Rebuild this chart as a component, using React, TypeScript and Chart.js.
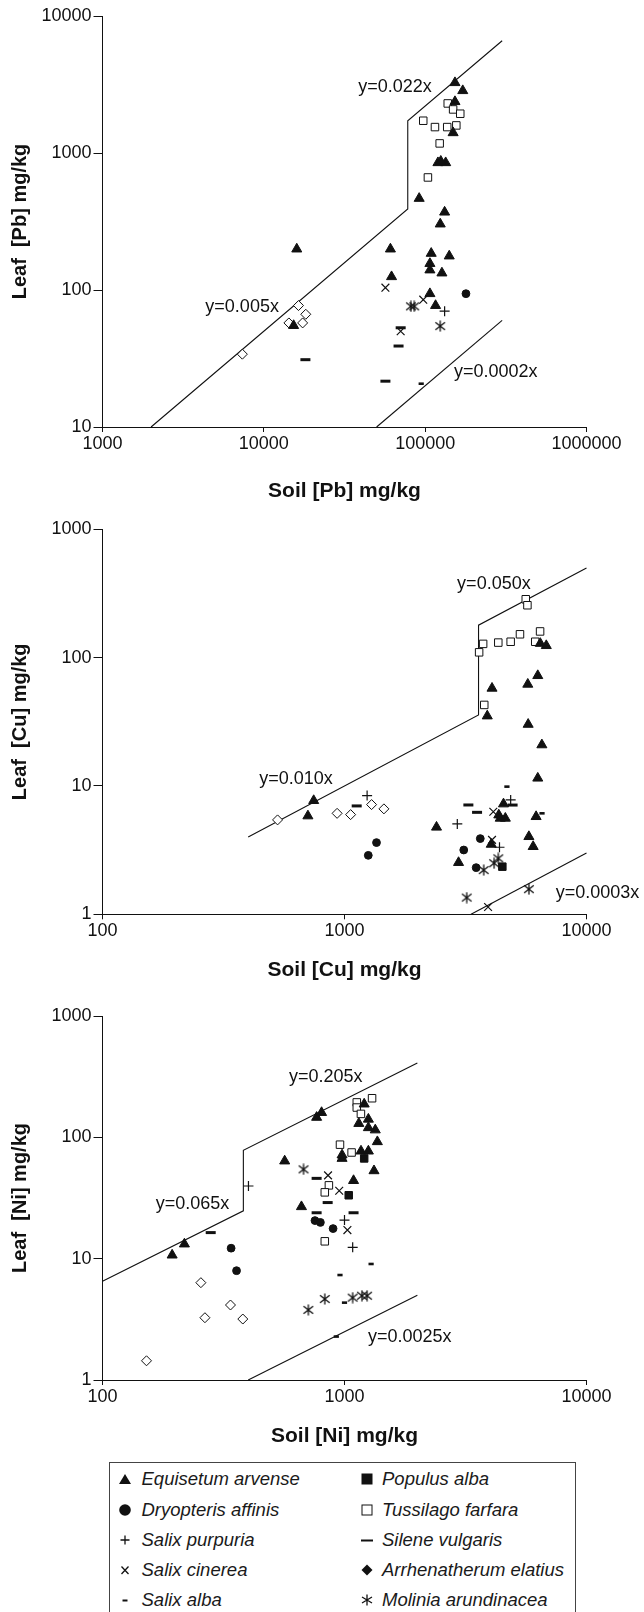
import React, { useEffect, useRef } from "react";
import { Chart, registerables } from "chart.js";

Chart.register(...registerables);

type Pt = [number, number];

// ================= Pb panel =================
const pbXTicks = [1000, 10000, 100000, 1000000];
const pbXTickLabels = ["1000", "10000", "100000", "1000000"];
const pbYTicks = [10, 100, 1000, 10000];
const pbYTickLabels = ["10", "100", "1000", "10000"];
const pbUpperLine: Pt[] = [[2000, 10], [78000, 390], [78000, 1716], [300000, 6600]];
const pbLowerLine: Pt[] = [[50000, 10], [300000, 60]];
const pbLineLabels = [
  { text: "y=0.022x", x: 38500, y: 3010 },
  { text: "y=0.005x", x: 4340, y: 75.3 },
  { text: "y=0.0002x", x: 151000, y: 25.2 },
];
const pbEquisetum: Pt[] = [
  [153000, 3260], [171000, 2850], [153000, 2370], [149000, 1405], [120000, 849], [134000, 849],
  [125000, 870], [91800, 466], [132000, 370], [124000, 303], [16000, 199], [60900, 199],
  [109000, 185], [141000, 177], [107000, 156], [107000, 140], [127000, 133], [61900, 125],
  [107000, 94], [116000, 77], [15300, 55],
];
const pbTussilago: Pt[] = [
  [138000, 2300], [149000, 2080], [165000, 1935], [97300, 1720], [115000, 1546], [137000, 1546],
  [156000, 1590], [123000, 1175], [104000, 663],
];
const pbArrhenatherum: Pt[] = [[7360, 34], [16400, 77], [18200, 66.5], [17400, 57.5], [14300, 57.5]];
const pbSalixCinerea: Pt[] = [[56700, 104], [97300, 85], [70500, 50]];
const pbMolinia: Pt[] = [[81600, 76], [85500, 76], [124000, 54.5]];
const pbSalixPurpuria: Pt[] = [[132000, 70]];
const pbDryopteris: Pt[] = [[179000, 94]];
const pbSilene: Pt[] = [[68400, 39], [18100, 31], [56700, 21.6], [70500, 53]];
const pbSalixAlba: Pt[] = [[94500, 20.7]];
const pbPopulus: Pt[] = [];

// ================= Cu panel =================
const cuXTicks = [100, 1000, 10000];
const cuXTickLabels = ["100", "1000", "10000"];
const cuYTicks = [1, 10, 100, 1000];
const cuYTickLabels = ["1", "10", "100", "1000"];
const cuUpperLine: Pt[] = [[400, 4], [3580, 35.8], [3580, 179], [10000, 500]];
const cuLowerLine: Pt[] = [[3333, 1], [10000, 3]];
const cuLineLabels = [
  { text: "y=0.050x", x: 2920, y: 375 },
  { text: "y=0.010x", x: 444, y: 11.3 },
  { text: "y=0.0003x", x: 7460, y: 1.46 },
];
const cuTussilago: Pt[] = [
  [5610, 285], [5700, 256], [6430, 160], [5310, 152], [4860, 133], [4320, 131], [3740, 128],
  [3600, 110], [6140, 133], [3780, 42.8],
];
const cuEquisetum: Pt[] = [
  [6440, 129], [6820, 124], [6290, 72.4], [5720, 62], [4070, 57.7], [3890, 35.1], [5740, 30.2],
  [6540, 20.9], [6290, 11.5], [746, 7.69], [706, 5.84], [4540, 7.24], [4340, 5.94], [4400, 5.6],
  [4620, 5.6], [6190, 5.77], [2400, 4.77], [5780, 4.03], [4040, 3.51], [6020, 3.37], [2960, 2.53],
];
const cuDryopteris: Pt[] = [[1356, 3.62], [1254, 2.88], [3110, 3.17], [3640, 3.89], [3500, 2.31]];
const cuPopulus: Pt[] = [[4490, 2.35]];
const cuArrhenatherum: Pt[] = [[529, 5.44], [932, 6.12], [1060, 5.98], [1294, 7.16], [1455, 6.63]];
const cuSalixPurpuria: Pt[] = [[1240, 8.41], [2925, 5.06], [4860, 7.78], [4370, 3.33]];
const cuSilene: Pt[] = [[1123, 6.99], [3250, 7.11], [3530, 6.23], [4950, 7.1]];
const cuSalixAlba: Pt[] = [[4690, 9.88], [6550, 6.12]];
const cuSalixCinerea: Pt[] = [[4120, 6.3], [4070, 3.8], [3920, 1.14]];
const cuMolinia: Pt[] = [[4320, 2.73], [4150, 2.5], [3760, 2.21], [3200, 1.35], [5780, 1.57]];

// ================= Ni panel =================
const niXTicks = [100, 1000, 10000];
const niXTickLabels = ["100", "1000", "10000"];
const niYTicks = [1, 10, 100, 1000];
const niYTickLabels = ["1", "10", "100", "1000"];
const niUpperLine: Pt[] = [[100, 6.5], [382, 24.8], [382, 78.3], [2000, 410]];
const niLowerLine: Pt[] = [[400, 1], [2000, 5]];
const niLineLabels = [
  { text: "y=0.205x", x: 590, y: 312 },
  { text: "y=0.065x", x: 166, y: 28.2 },
  { text: "y=0.0025x", x: 1250, y: 2.25 },
];
const niEquisetum: Pt[] = [
  [194, 10.7], [218, 13.2], [566, 63.8], [664, 26.8], [767, 146], [804, 160], [977, 67], [977, 71.5],
  [1090, 44], [1206, 188], [1146, 130], [1255, 141], [1255, 120], [1340, 115], [1367, 92],
  [1170, 77], [1255, 77], [1324, 53],
];
const niTussilago: Pt[] = [
  [1124, 194], [1124, 176], [1300, 210], [1169, 156], [958, 87], [1070, 75], [862, 40.2],
  [829, 35.2], [829, 13.9],
];
const niPopulus: Pt[] = [[1041, 33.3], [1206, 67]];
const niDryopteris: Pt[] = [[340, 12.2], [358, 7.96], [755, 20.6], [795, 19.9], [897, 17.7]];
const niArrhenatherum: Pt[] = [[152, 1.44], [255, 6.34], [265, 3.26], [338, 4.15], [380, 3.18]];
const niSalixPurpuria: Pt[] = [[401, 39.7], [1000, 20.8], [1081, 12.4]];
const niSilene: Pt[] = [[280, 16.4], [767, 45.9], [852, 29], [767, 23.9], [1090, 23.9]];
const niSalixAlba: Pt[] = [[1288, 9.04], [958, 7.33], [1000, 4.34], [925, 2.28]];
const niSalixCinerea: Pt[] = [[855, 48.6], [951, 36.3], [1028, 17.2]];
const niMolinia: Pt[] = [[677, 54.5], [709, 3.78], [829, 4.65], [1081, 4.77], [1180, 4.95], [1240, 4.95]];

// ================= legend =================
const legendCol1 = ["Equisetum arvense", "Dryopteris affinis", "Salix purpuria", "Salix cinerea", "Salix alba"];
const legendCol2 = ["Populus alba", "Tussilago farfara", "Silene vulgaris", "Arrhenatherum elatius", "Molinia arundinacea"];

const INK = "#111";
const FONT = '"Liberation Sans", Arial, Helvetica, sans-serif';

let asteriskImg: HTMLCanvasElement | null = null;
function getAsterisk(): HTMLCanvasElement {
  if (asteriskImg) return asteriskImg;
  const c = document.createElement("canvas");
  c.width = 12;
  c.height = 12;
  const g = c.getContext("2d")!;
  g.strokeStyle = INK;
  g.lineWidth = 1.3;
  g.beginPath();
  g.moveTo(6, 0.5);
  g.lineTo(6, 11.5);
  g.moveTo(1.2, 2.2);
  g.lineTo(10.8, 9.8);
  g.moveTo(10.8, 2.2);
  g.lineTo(1.2, 9.8);
  g.stroke();
  asteriskImg = c;
  return c;
}

function styleFor(species: string): any {
  switch (species) {
    case "Equisetum arvense":
      return { pointStyle: "triangle", pointRadius: 5.8, backgroundColor: INK, borderColor: INK, borderWidth: 1 };
    case "Dryopteris affinis":
      return { pointStyle: "circle", pointRadius: 3.9, backgroundColor: INK, borderColor: INK, borderWidth: 1 };
    case "Salix purpuria":
      return { pointStyle: "cross", pointRadius: 5, backgroundColor: INK, borderColor: INK, borderWidth: 1.2 };
    case "Salix cinerea":
      return { pointStyle: "crossRot", pointRadius: 5.5, backgroundColor: INK, borderColor: INK, borderWidth: 1.2 };
    case "Salix alba":
      return { pointStyle: "line", pointRadius: 2.6, backgroundColor: INK, borderColor: INK, borderWidth: 2.6 };
    case "Populus alba":
      return { pointStyle: "rect", pointRadius: 5.3, backgroundColor: INK, borderColor: INK, borderWidth: 1 };
    case "Tussilago farfara":
      return { pointStyle: "rect", pointRadius: 5.3, backgroundColor: "#fff", borderColor: INK, borderWidth: 1 };
    case "Silene vulgaris":
      return { pointStyle: "line", pointRadius: 5, backgroundColor: INK, borderColor: INK, borderWidth: 3 };
    case "Arrhenatherum elatius":
      return { pointStyle: "rectRot", pointRadius: 5, backgroundColor: "#fff", borderColor: INK, borderWidth: 1 };
    case "Molinia arundinacea":
      return { pointStyle: getAsterisk(), pointRadius: 6, backgroundColor: INK, borderColor: INK, borderWidth: 1 };
  }
  return {};
}

const lineLabelsPlugin = {
  id: "lineLabels",
  afterDatasetsDraw(chart: any, _args: any, opts: any) {
    const { ctx } = chart;
    const xs = chart.scales.x;
    const ys = chart.scales.y;
    ctx.save();
    ctx.font = `18px ${FONT}`;
    ctx.fillStyle = INK;
    ctx.textAlign = "left";
    ctx.textBaseline = "middle";
    for (const l of opts.labels || []) {
      ctx.fillText(l.text, xs.getPixelForValue(l.x), ys.getPixelForValue(l.y));
    }
    ctx.restore();
  },
};

type Panel = {
  top: number;
  height: number;
  areaTop: number;
  areaBottom: number;
  xTitlePad: number;
  xTitle: string;
  yTitle: string;
  xTicks: number[];
  xTickLabels: string[];
  yTicks: number[];
  yTickLabels: string[];
  upper: Pt[];
  lower: Pt[];
  labels: { text: string; x: number; y: number }[];
  series: [string, Pt[]][];
};

const AREA_LEFT = 102.5;
const AREA_RIGHT = 586.5;
const WIDTH = 644;

const panels: Panel[] = [
  {
    top: 0, height: 510, areaTop: 16, areaBottom: 427, xTitlePad: 6.4,
    xTitle: "Soil [Pb] mg/kg", yTitle: "Leaf  [Pb] mg/kg",
    xTicks: pbXTicks, xTickLabels: pbXTickLabels, yTicks: pbYTicks, yTickLabels: pbYTickLabels,
    upper: pbUpperLine, lower: pbLowerLine, labels: pbLineLabels,
    series: [
      ["Equisetum arvense", pbEquisetum], ["Dryopteris affinis", pbDryopteris], ["Salix purpuria", pbSalixPurpuria],
      ["Salix cinerea", pbSalixCinerea], ["Salix alba", pbSalixAlba], ["Populus alba", pbPopulus],
      ["Tussilago farfara", pbTussilago], ["Silene vulgaris", pbSilene], ["Arrhenatherum elatius", pbArrhenatherum],
      ["Molinia arundinacea", pbMolinia],
    ],
  },
  {
    top: 500, height: 490, areaTop: 29.3, areaBottom: 414.3, xTitlePad: 7.4,
    xTitle: "Soil [Cu] mg/kg", yTitle: "Leaf  [Cu] mg/kg",
    xTicks: cuXTicks, xTickLabels: cuXTickLabels, yTicks: cuYTicks, yTickLabels: cuYTickLabels,
    upper: cuUpperLine, lower: cuLowerLine, labels: cuLineLabels,
    series: [
      ["Equisetum arvense", cuEquisetum], ["Dryopteris affinis", cuDryopteris], ["Salix purpuria", cuSalixPurpuria],
      ["Salix cinerea", cuSalixCinerea], ["Salix alba", cuSalixAlba], ["Populus alba", cuPopulus],
      ["Tussilago farfara", cuTussilago], ["Silene vulgaris", cuSilene], ["Arrhenatherum elatius", cuArrhenatherum],
      ["Molinia arundinacea", cuMolinia],
    ],
  },
  {
    top: 1000, height: 460, areaTop: 16, areaBottom: 380, xTitlePad: 11.4,
    xTitle: "Soil [Ni] mg/kg", yTitle: "Leaf  [Ni] mg/kg",
    xTicks: niXTicks, xTickLabels: niXTickLabels, yTicks: niYTicks, yTickLabels: niYTickLabels,
    upper: niUpperLine, lower: niLowerLine, labels: niLineLabels,
    series: [
      ["Equisetum arvense", niEquisetum], ["Dryopteris affinis", niDryopteris], ["Salix purpuria", niSalixPurpuria],
      ["Salix cinerea", niSalixCinerea], ["Salix alba", niSalixAlba], ["Populus alba", niPopulus],
      ["Tussilago farfara", niTussilago], ["Silene vulgaris", niSilene], ["Arrhenatherum elatius", niArrhenatherum],
      ["Molinia arundinacea", niMolinia],
    ],
  },
];

function buildConfig(p: Panel): any {
  const toXY = (pts: Pt[]) => pts.map(([x, y]) => ({ x, y }));
  const lineDs = (pts: Pt[]) => ({
    type: "line",
    data: toXY(pts),
    showLine: true,
    borderColor: INK,
    borderWidth: 1.1,
    pointRadius: 0,
    fill: false,
    tension: 0,
    clip: false,
  });
  const datasets: any[] = [
    ...p.series.map(([name, pts]) => ({
      label: name,
      data: toXY(pts),
      showLine: false,
      clip: false,
      ...styleFor(name),
    })),
    lineDs(p.upper),
    lineDs(p.lower),
  ];
  const tickFont = { family: FONT, size: 18 };
  return {
    type: "scatter",
    data: { datasets },
    plugins: [lineLabelsPlugin],
    options: {
      animation: false,
      responsive: false,
      devicePixelRatio: 1,
      events: [],
      layout: { padding: { left: 0, right: WIDTH - AREA_RIGHT, top: p.areaTop, bottom: 0 } },
      plugins: {
        legend: { display: false },
        tooltip: { enabled: false },
        lineLabels: { labels: p.labels },
      },
      scales: {
        x: {
          type: "logarithmic",
          position: "bottom",
          min: p.xTicks[0],
          max: p.xTicks[p.xTicks.length - 1],
          afterBuildTicks: (s: any) => {
            s.ticks = p.xTicks.map((v) => ({ value: v }));
          },
          afterFit: (s: any) => {
            s.height = p.height - p.areaBottom;
          },
          ticks: {
            autoSkip: false,
            maxRotation: 0,
            color: INK,
            font: tickFont,
            padding: 1,
            callback: (_v: any, i: number) => p.xTickLabels[i],
          },
          grid: { drawOnChartArea: false, drawTicks: true, tickLength: 5, color: INK, lineWidth: 1 },
          border: { display: true, color: INK, width: 1 },
          title: {
            display: true,
            text: p.xTitle,
            color: INK,
            font: { family: FONT, size: 21, weight: "bold" },
            padding: { top: 0, bottom: p.xTitlePad },
          },
        },
        y: {
          type: "logarithmic",
          position: "left",
          min: p.yTicks[0],
          max: p.yTicks[p.yTicks.length - 1],
          afterBuildTicks: (s: any) => {
            s.ticks = p.yTicks.map((v) => ({ value: v }));
          },
          afterFit: (s: any) => {
            s.width = AREA_LEFT;
          },
          ticks: {
            autoSkip: false,
            color: INK,
            font: tickFont,
            padding: 2,
            callback: (_v: any, i: number) => p.yTickLabels[i],
          },
          grid: { drawOnChartArea: false, drawTicks: true, tickLength: 9, color: INK, lineWidth: 1 },
          border: { display: true, color: INK, width: 1 },
          title: {
            display: true,
            text: p.yTitle,
            color: INK,
            font: { family: FONT, size: 20, weight: "bold" },
            padding: { top: 8, bottom: 0 },
          },
        },
      },
    },
  };
}

function ScatterPanel({ panel }: { panel: Panel }) {
  const ref = useRef<HTMLCanvasElement>(null);
  useEffect(() => {
    const chart = new Chart(ref.current as HTMLCanvasElement, buildConfig(panel));
    return () => chart.destroy();
  }, [panel]);
  return (
    <canvas
      ref={ref}
      width={WIDTH}
      height={panel.height}
      style={{ position: "absolute", left: 0, top: panel.top, width: WIDTH, height: panel.height }}
    />
  );
}

function LegendSymbol({ name }: { name: string }) {
  const s = { stroke: INK, fill: "none" };
  let el: any = null;
  switch (name) {
    case "Equisetum arvense":
      el = <polygon points="1,12 7,2 13,12" fill={INK} />;
      break;
    case "Dryopteris affinis":
      el = <circle cx="7" cy="7" r="5.8" fill={INK} />;
      break;
    case "Salix purpuria":
      el = <path d="M7 2.5 V11.5 M2.5 7 H11.5" {...s} strokeWidth="1.3" />;
      break;
    case "Salix cinerea":
      el = <path d="M3.5 3.5 L10.5 11 M10.5 3.5 L3.5 11" {...s} strokeWidth="1.3" />;
      break;
    case "Salix alba":
      el = <path d="M4.5 7.5 H9.5" {...s} strokeWidth="2" />;
      break;
    case "Populus alba":
      el = <rect x="1.5" y="1.5" width="11" height="11" fill={INK} />;
      break;
    case "Tussilago farfara":
      el = <rect x="2" y="2" width="10" height="10" {...s} strokeWidth="1" />;
      break;
    case "Silene vulgaris":
      el = <path d="M1 7.5 H13" {...s} strokeWidth="2" />;
      break;
    case "Arrhenatherum elatius":
      el = <polygon points="7,1.5 12.5,7 7,12.5 1.5,7" fill={INK} />;
      break;
    case "Molinia arundinacea":
      el = <path d="M7 1.5 V12.5 M2 4 L12 10 M12 4 L2 10" {...s} strokeWidth="1.3" />;
      break;
  }
  return (
    <svg width="14" height="14" viewBox="0 0 14 14" style={{ position: "absolute", left: -7, top: -7 }}>
      {el}
    </svg>
  );
}

function Legend() {
  const boxLeft = 108.5;
  const boxTop = 1461.5;
  const rowY = [1479, 1510, 1540, 1569.5, 1600];
  const cols = [
    { names: legendCol1, symX: 125, textX: 141.5 },
    { names: legendCol2, symX: 367, textX: 382 },
  ];
  return (
    <div
      style={{
        position: "absolute",
        left: boxLeft,
        top: boxTop,
        width: 576 - boxLeft,
        height: 200,
        border: "1px solid #444",
        boxSizing: "border-box",
        background: "#fff",
      }}
    >
      {cols.map((c, ci) =>
        c.names.map((n, ri) => (
          <React.Fragment key={`${ci}-${ri}`}>
            <div
              style={{
                position: "absolute",
                left: c.symX - boxLeft - 1,
                top: rowY[ri] - boxTop - 1,
                width: 0,
                height: 0,
              }}
            >
              <LegendSymbol name={n} />
            </div>
            <div
              style={{
                position: "absolute",
                left: c.textX - boxLeft - 1,
                top: rowY[ri] - boxTop - 1 - 12,
                height: 24,
                lineHeight: "24px",
                fontFamily: FONT,
                fontStyle: "italic",
                fontSize: 18.5,
                color: "#1a1a1a",
                whiteSpace: "nowrap",
              }}
            >
              {n}
            </div>
          </React.Fragment>
        ))
      )}
    </div>
  );
}

export default function App() {
  return (
    <div
      style={{
        position: "absolute",
        left: 0,
        top: 0,
        width: WIDTH,
        height: 1612,
        overflow: "hidden",
        background: "#fff",
      }}
    >
      {panels.map((p, i) => (
        <ScatterPanel key={i} panel={p} />
      ))}
      <Legend />
    </div>
  );
}
